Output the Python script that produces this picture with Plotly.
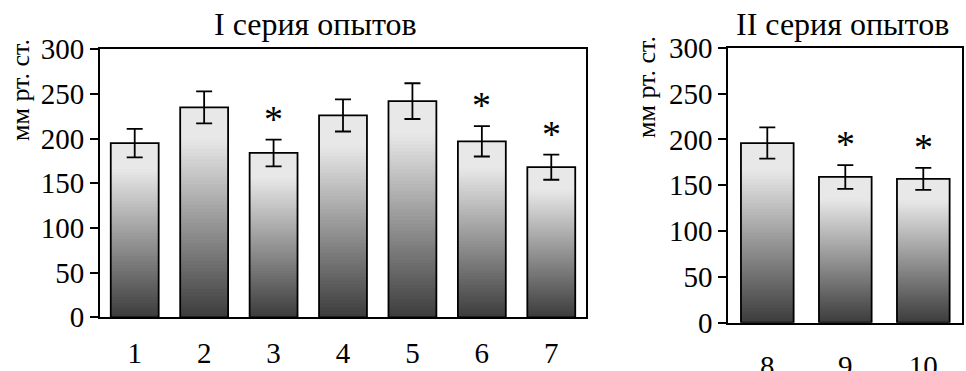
import plotly.graph_objects as go

# ---- data ----
cats1 = ["1", "2", "3", "4", "5", "6", "7"]
vals1 = [195, 235, 184, 226, 242, 197, 168]
errs1 = [16, 18, 15, 18, 20, 17, 14]
star1 = [False, False, True, False, False, True, True]

cats2 = ["8", "9", "10"]
vals2 = [196, 159, 157]
errs2 = [17, 13, 12]
star2 = [False, True, True]

yticks = [0, 50, 100, 150, 200, 250, 300]
title1 = "I серия опытов"
title2 = "II серия опытов"
ytitle = "мм рт. ст."

FONT = "Liberation Serif, Times New Roman, serif"
W, H = 966, 371
N = 60  # gradient slices


def grad_color(t):
    # t: 0 at bottom, 1 at top
    lo, hi = 60, 232
    k = min(1.0, t / 0.85)
    v = int(round(lo + (hi - lo) * k))
    return f"rgb({v},{v},{v})"


fig = go.Figure()


def add_panel(cats, vals, errs, stars, xa, ya, width):
    xs = [int(c) for c in cats]
    for i in range(N):
        c = grad_color((i + 0.5) / N)
        bases = [v * i / N for v in vals]
        fig.add_trace(go.Bar(
            x=xs, y=[v - b for v, b in zip(vals, bases)], base=bases,
            width=width, marker=dict(color=c, line=dict(width=0)),
            xaxis=xa, yaxis=ya, showlegend=False, hoverinfo="skip"))
    fig.add_trace(go.Bar(
        x=xs, y=vals, width=width,
        marker=dict(color="rgba(0,0,0,0)", line=dict(color="black", width=1.8)),
        error_y=dict(type="data", array=errs, visible=True, color="black",
                     thickness=1.8, width=8),
        xaxis=xa, yaxis=ya, showlegend=False))
    for x, v, e, s in zip(xs, vals, errs, stars):
        if s:
            fig.add_annotation(x=x, y=v + e, xref=xa, yref=ya, text="*",
                               showarrow=False, yanchor="bottom", yshift=-2,
                               font=dict(family=FONT, size=38, color="black"))
    return xs


xs1 = add_panel(cats1, vals1, errs1, star1, "x", "y", 0.69)
xs2 = add_panel(cats2, vals2, errs2, star2, "x2", "y2", 0.675)

axis_common = dict(showline=True, linecolor="black", linewidth=1.8, mirror=True,
                   showgrid=False, zeroline=False, automargin=False,
                   tickfont=dict(family=FONT, size=29, color="black"))

fig.update_layout(
    width=W, height=H, margin=dict(l=0, r=0, t=0, b=0, autoexpand=False),
    paper_bgcolor="white", plot_bgcolor="white", barmode="overlay",
    xaxis=dict(domain=[100 / W, 586 / W], anchor="y", range=[0.5, 7.5],
               tickvals=xs1, ticktext=cats1,
               ticks="", ticklabelstandoff=9, **axis_common),
    yaxis=dict(domain=[(H - 317.3) / H, (H - 49.3) / H], anchor="x",
               range=[0, 300], tickvals=yticks, ticks="outside", ticklen=8,
               tickwidth=1.8, tickcolor="black", **axis_common),
    xaxis2=dict(domain=[728.3 / W, 962.3 / W], anchor="y2", range=[7.5, 10.5],
                tickvals=xs2, ticktext=cats2,
                ticks="", ticklabelstandoff=17, **axis_common),
    yaxis2=dict(domain=[(H - 322.7) / H, (H - 47.7) / H], anchor="x2",
                range=[0, 300], tickvals=yticks, ticks="outside", ticklen=8,
                tickwidth=1.8, tickcolor="black", **axis_common),
)

# titles
fig.add_annotation(x=315 / W, y=1 - 24 / H, xref="paper", yref="paper", text=title1,
                   showarrow=False, xanchor="center", yanchor="middle",
                   font=dict(family=FONT, size=32, color="black"))
fig.add_annotation(x=842 / W, y=1 - 24 / H, xref="paper", yref="paper", text=title2,
                   showarrow=False, xanchor="center", yanchor="middle",
                   font=dict(family=FONT, size=32, color="black"))
# y titles
fig.add_annotation(x=20 / W, y=1 - 90 / H, xref="paper", yref="paper", text=ytitle,
                   showarrow=False, textangle=-90, xanchor="center", yanchor="middle",
                   font=dict(family=FONT, size=26, color="black"))
fig.add_annotation(x=647 / W, y=1 - 87 / H, xref="paper", yref="paper", text=ytitle,
                   showarrow=False, textangle=-90, xanchor="center", yanchor="middle",
                   font=dict(family=FONT, size=26, color="black"))

fig.write_html("out.html", config={"displayModeBar": False},
               post_script="document.body.style.margin='0';")
